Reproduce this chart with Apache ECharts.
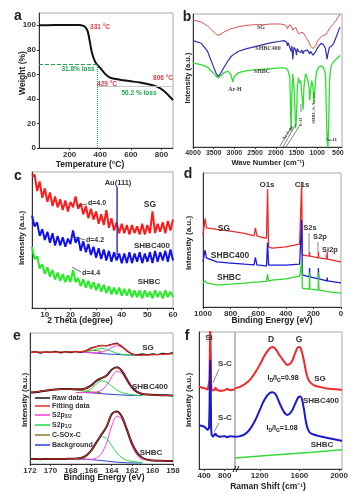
<!DOCTYPE html>
<html><head><meta charset="utf-8">
<script src="https://cdn.jsdelivr.net/npm/echarts@6/dist/echarts.min.js"></script>
<style>html,body{margin:0;padding:0;background:#fff}#c{width:364px;height:501px}</style>
</head><body><div id="c"></div><script>
// ---------- (a) TGA ----------
const tgaTemp   = [0, 100, 200, 260, 290, 305, 318, 330, 345, 365, 378, 398, 430, 463, 528, 600, 660, 720, 770, 810, 845, 875];
const tgaWeight = [100, 100.2, 100.3, 100.2, 99.5, 98, 95, 88, 78, 70.5, 68.2, 65.5, 60.6, 57.4, 55.7, 54.4, 53.3, 51.8, 50, 47, 43, 39];
const tgaLossTemp = 378, tgaLossLevel = 68.2, tgaResidualLevel = 50;
const tgaXTicks = [200, 400, 600, 800];
const tgaYTicks = [0, 20, 40, 60, 80, 100];
// ---------- (b) FTIR ----------
const ftirWn = [4000,3800,3650,3550,3450,3400,3350,3250,3150,3080,3040,3000,2900,2700,2500,2300,2100,1900,1800,1740,1720,1700,1660,1630,1610,1590,1560,1520,1500,1480,1450,1420,1400,1370,1340,1320,1280,1240,1200,1180,1160,1130,1100,1080,1060,1040,1020,1000,960,900,850,800,780,760,740,720,700,680,650,600,550,500,450];
const ftirSG = [95.5,94,91,88,85,84,84.5,86.5,88,89,89,89.5,90.5,91.5,92,92,92.5,92.5,92,91,89,90.5,92,91,90,88,89,90,89,87,85,83.5,86,87,86,85,83,81,79,77.5,76,75,74,74,75,76,77.5,79,81,83,84,84,85,86,87.5,88,89,90,91.5,93,95,97.5,100];
const ftirSHBC400 = [80,78,72,64,56,53,54.5,60,65,68,69,70,72,74,75.5,77,78.5,79.5,80,79,76,78.5,77,72,76,66,75,73,69,74,72,73.5,71,73,70,72,71,73,71.5,70,72,70.5,69,68,70,71.5,72.5,74,76,78,77,74,70,66,70,73,75,75,76,78,82,86,90];
const ftirSHBC = [63,62,60,57,53.5,52,53,56,57,54,49,53,56,57.5,58,58.5,59,59.5,59.5,59,58,57,52,12,40,55,45,14,22,45,52,48,50,40,28,45,55,52,46,35,42,50,45,33,40,50,55,58,60,61,60,55,30,5,0,20,50,58,62,64,66,67,69];
const ftirTicks = [500,1000,1500,2000,2500,3000,3500,4000];
// ---------- (c) XRD ----------
const xrdTheta = [5,6,7,8,9,10,11,12,13,14,15,16,17,18,19,20,21,22,23,24,25,26,27,28,29,30,31,32,33,34,35,36,37,38,39,40,41,42,43,44,45,46,47,48,49,50,51,52,53,54,55,56,57,58,59,60];
const xrdSG = [97,98,86,93,81,88,78,85,75,82,74,80,72,79,71,78,74,82,73,77,69,75,66,73,65,71,62,69,61,72,59,66,57,63,55,62,55,61,54,61,55,60,54,62,54,61,55,71,55,62,56,63,55,64,57,65];
const xrdSHBC400 = [68,60,63,53,58,50,56,48,55,46,53,46,52,45,51,47,57,48,52,42,49,41,47,39,45,37,44,36,43,35,42,34,41,35,40,33,40,33,41,33,40,34,41,33,40,34,41,33,42,34,41,35,42,34,43,35];
const xrdSHBC = [45,36,38,29,32,25,30,23,28,21,26,20,25,19,24,19,28,19,22,16,21,15,20,14,19,13,18,12,17,11,16,10,15,10,15,9,14,9,14,8,13,8,13,7,13,8,12,7,13,8,12,7,13,8,12,8];
const auPeakTheta = 38.2, auLineSpan = [39, 89];
const xrdTicks = [10,20,30,40,50,60];
// ---------- (d) XPS survey ----------
const xpsBE = [1000,985,975,900,800,700,630,620,610,560,540,532,525,500,400,300,290,285,280,230,228,225,165,164,160,102,100,98,0];
const xpsSG = [53.7,66,59,58,56.7,55,53,59,53,51.5,51.5,88,44.8,44,44.8,47,47,93,38.8,38,41,38,36.6,41,36.6,35.8,41,35.8,33.6];
const xpsSHBC400 = [33.6,42.5,36.6,33.6,32.8,32,31.5,37,31.5,30.8,30.6,48,31.3,31.3,31.3,32,32,65,24,22.4,29,22.4,21,29,21,19.5,22,19.5,18];
const xpsSHBC = [18,19.5,18,16.4,17,17.8,18.5,19,18.5,19,19.2,24.6,19.4,20,21,23,23.5,33.6,14,13.4,26,13.4,12.7,26,12.7,11.5,12.5,11.5,10.4];
const xpsTicks = [0,200,400,600,800,1000];
// ---------- (e) S2p high resolution ----------
const s2pBE = [172,171.5,171,170.5,170,169.5,169,168.5,168,167.5,167,166.5,166,165.5,165,164.5,164,163.5,163,162.5,162,161.5,161,160.5,160,159.5,159,158.5,158];
const compBE = [167.5,167,166.5,166,165.5,165,164.5,164,163.5,163,162.5,162,161.5,161];
const oliveBE = [172,171.5,171,170.5,170,169.5,169,168.5,168,167.5,167,166.5,166,165.5,165];
const sgRaw = [85.0,85.8,84.6,85.6,85.2,85.9,84.8,85.7,85.1,86.0,85.3,86.6,88.6,89.6,90.6,90.2,91.4,92.3,89.6,86.2,83.8,83.3,84.1,83.3,84.0,83.5,84.4,84.0,85.0];
const sgFit = [85.4,85.4,85.4,85.4,85.4,85.4,85.5,85.5,85.6,85.7,85.8,86.6,88.2,89.6,90.4,90.4,91.2,91.8,89.8,86.6,84.0,83.2,83.0,83.1,83.3,83.5,83.7,83.9,84.1];
const sgBg = [85.6,85.4,85.2,84.9,84.6,84.3,84.0,83.8,83.6,83.4,83.2,83.0,82.9,82.9];
const sgS2p12 = [85.6,85.5,85.8,86.5,87.6,88.3,87.5,86.0,84.6,83.7,83.3,83.0,82.9,82.9];
const sgS2p32 = [85.6,85.4,85.2,84.9,84.8,85.3,86.6,88.8,90.4,89.3,86.4,84.0,83.1,82.9];
const sgCSOx = [85.4,85.4,85.4,85.4,85.4,85.5,85.5,85.6,85.7,85.8,85.9,86.3,86.8,86.6,85.9];
const s4Raw = [54.6,54.8,55.3,55.9,56.5,56.9,57.2,57.3,57.2,57.0,57.0,57.8,60.0,63.5,65.5,67.5,72.0,73.8,71.0,64.5,58.5,55.0,53.5,53.0,52.8,52.6,52.5,52.4,52.3];
const s4Fit = [54.6,54.9,55.4,56.0,56.5,56.9,57.1,57.2,57.2,57.1,57.1,57.8,59.9,63.3,65.6,67.6,71.8,73.6,71.2,64.6,58.6,55.2,53.6,53.0,52.7,52.5,52.4,52.3,52.3];
const s4Bg = [54.6,54.6,54.5,54.3,54.0,53.7,53.4,53.1,52.9,52.7,52.5,52.4,52.3,52.3];
const s4S2p12 = [54.6,54.7,55.4,57.5,61.0,63.5,62.5,59.5,56.5,54.5,53.5,52.9,52.5,52.3];
const s4S2p32 = [54.6,54.5,54.5,54.6,55.0,56.3,60.0,66.5,70.8,69.2,63.0,57.5,54.3,53.0];
const s4CSOx = [54.6,55.0,55.6,56.2,56.7,57.0,57.2,57.2,57.0,56.6,56.1,55.5,55.0,54.6,54.4];
const shRaw = [3.8,3.9,3.7,3.8,3.8,3.9,3.8,3.9,4.0,4.2,4.6,6.5,10.5,16.5,22.5,28.5,38.0,40.0,36.0,26.0,15.5,8.5,4.8,3.2,2.7,2.5,2.4,2.3,2.3];
const shFit = [3.8,3.8,3.8,3.8,3.8,3.8,3.8,3.9,4.0,4.2,4.6,6.4,10.3,16.3,22.4,28.6,37.8,39.8,36.1,26.2,15.7,8.6,4.9,3.2,2.7,2.5,2.4,2.3,2.3];
const shBg = [3.9,3.8,3.6,3.3,3.0,2.6,2.2,1.8,1.4,1.1,0.9,0.8,0.8,0.8];
const shS2p12 = [3.9,3.9,5.5,9.5,15.5,20.8,19.5,14.0,8.5,4.8,2.8,2.0,1.5,1.2];
const shS2p32 = [3.9,3.8,3.7,3.6,4.5,8.0,16.0,29.0,36.5,34.0,24.5,13.5,6.5,2.8];
const s2pTicks = [158,160,162,164,166,168,170,172];
// ---------- (f) Raman ----------
const ramanLeftShift = [300,400,470,495,505,512,518,522,528,535,545,570,600,620,640,700,800,850,900,1000];
const ramanLeftSG = [60,59,58,58.5,65,90,105,105,85,62,57.5,57,57.5,59.5,58,57,57.5,58.5,57.5,58];
const ramanLeftSHBC400 = [32,31,28.5,30,45,70,80,80,60,30,25,23.5,24,26,24.5,23.5,24,23,24,23.5];
const ramanRightShift = [950,1000,1050,1100,1150,1200,1250,1300,1330,1360,1400,1450,1480,1520,1560,1590,1610,1640,1670,1700,1750,1800,1900,2000,2030];
const ramanRightSG = [59,60,62,65,70,76,83,88,89,87.5,83,78,76,78,85,89,88.5,81,70,64,61,60,58.5,58,57.7];
const ramanRightSHBC400 = [23.5,24,25.5,29,35,43,51,55.5,56,54.5,48,41,39.5,42,48,52.5,53,46,33,27,25,24,22.5,21,20.5];
const ramanGreenShift = [950,1300,1700,2030];
const ramanGreenSHBC = [8,10,12,14];
const ramanLeftTicks = [400,800];
const ramanRightTicks = [1200,1600,2000];

// ---------- build ----------
const FONT = '"Liberation Sans", Arial, sans-serif';
const SERIF = '"Liberation Serif", "DejaVu Serif", serif';
const RED = '#ee2a2a';
const pairs = (xs, ys) => xs.map((x, i) => [x, ys[i]]);
const plain = v => String(v);

function axisCfg(gi, min, max, ticks, fs, extra) {
  return Object.assign({
    type: 'value', gridIndex: gi, min, max, splitLine: {show: false},
    axisLine: {onZero: false, lineStyle: {color: '#333', width: 1}},
    axisTick: ticks ? {customValues: ticks, length: 2, lineStyle: {color: '#333'}} : {show: false},
    axisLabel: ticks ? {customValues: ticks, formatter: plain, fontSize: fs || 8, fontWeight: 'bold', color: '#333', margin: 3, fontFamily: FONT} : {show: false}
  }, extra || {});
}
function L(gi, data, color, w, extra) {
  return Object.assign({type: 'line', xAxisIndex: gi, yAxisIndex: gi, data, symbol: 'none', showSymbol: false,
    lineStyle: {color, width: w}, itemStyle: {color}, animation: false, silent: true, clip: true}, extra || {});
}
function T(x, y, text, o) {
  o = o || {};
  const st = {text, fill: o.color || '#222', font: (o.weight || 'bold') + ' ' + (o.size || 8) + 'px ' + (o.family || FONT),
    align: o.align || 'center', verticalAlign: 'middle'};
  if (o.rich) st.rich = o.rich;
  return {type: 'text', x, y, rotation: o.rot || 0, z: 100, style: st};
}
function Ln(x1, y1, x2, y2, color, w) {
  return {type: 'line', z: 100, shape: {x1, y1, x2, y2}, style: {stroke: color || '#333', lineWidth: w || 0.8}};
}
const gridBase = {show: true, borderColor: '#a8a8a8', borderWidth: 1, backgroundColor: 'transparent', containLabel: false};
const grids = [
  {left: 39, top: 13, width: 134, height: 135},
  {left: 193, top: 14, width: 149, height: 133},
  {left: 32, top: 172, width: 141, height: 136},
  {left: 203, top: 173, width: 138, height: 134},
  {left: 30, top: 333, width: 143, height: 131},
  {left: 199, top: 332, width: 36, height: 137},
  {left: 235, top: 332, width: 107, height: 137}
].map(g => Object.assign({}, gridBase, g));

const xAxes = [
  axisCfg(0, 0, 875, tgaXTicks),
  axisCfg(1, 400, 4000, ftirTicks, 7, {inverse: true}),
  axisCfg(2, 5, 60, xrdTicks),
  axisCfg(3, 0, 1000, xpsTicks, 8, {inverse: true}),
  axisCfg(4, 158, 172, s2pTicks, 8, {inverse: true}),
  axisCfg(5, 300, 1000, ramanLeftTicks),
  axisCfg(6, 950, 2030, ramanRightTicks)
];
const yAxes = [
  axisCfg(0, 0, 110, tgaYTicks),
  axisCfg(1, 0, 100, null), axisCfg(2, 0, 100, null), axisCfg(3, 0, 100, null), axisCfg(4, 0, 100, null),
  axisCfg(5, 0, 100, null), axisCfg(6, 0, 100, null, 8, {axisLine: {show: false}})
];

const PINK = '#ff3fd6', OLIVE = '#8c7a22', BGBLUE = '#2a40d8', DARK = '#151515', EGREEN = '#22d84a';
const series = [
  L(0, pairs(tgaTemp, tgaWeight), '#111', 2, {smooth: 0.3, markLine: {symbol: 'none', silent: true, animation: false, label: {show: false},
    data: [
      [{coord: [0, tgaLossLevel], lineStyle: {color: '#2a9d4a', type: 'dashed', width: 1}}, {coord: [tgaLossTemp, tgaLossLevel]}],
      [{coord: [tgaLossTemp, 0], lineStyle: {color: '#2a9d4a', type: 'dotted', width: 1}}, {coord: [tgaLossTemp, tgaLossLevel]}],
      [{coord: [tgaLossTemp, tgaResidualLevel], lineStyle: {color: '#c8c8c8', type: 'solid', width: 1}}, {coord: [875, tgaResidualLevel]}]
    ]}}),
  L(1, pairs(ftirWn, ftirSG), '#d9534f', 1),
  L(1, pairs(ftirWn, ftirSHBC400), '#3030b0', 1.2),
  L(1, pairs(ftirWn, ftirSHBC), '#2fe02f', 1.3),
  L(2, pairs(xrdTheta, xrdSG), '#ff1a1a', 2),
  L(2, pairs(xrdTheta, xrdSHBC400), '#1010ee', 2),
  L(2, pairs(xrdTheta, xrdSHBC), '#22ee22', 2),
  L(2, [[auPeakTheta, auLineSpan[0]], [auPeakTheta, auLineSpan[1]]], '#3a3aa8', 1.5),
  L(3, pairs(xpsBE, xpsSG), RED, 1.3),
  L(3, pairs(xpsBE, xpsSHBC400), '#1a1ad0', 1.3),
  L(3, pairs(xpsBE, xpsSHBC), '#2fd82f', 1.3),
  // e
  L(4, pairs(compBE, sgBg), BGBLUE, 1),
  L(4, pairs(compBE, sgS2p12), EGREEN, 1),
  L(4, pairs(compBE, sgS2p32), PINK, 1),
  L(4, pairs(oliveBE, sgCSOx), OLIVE, 1),
  L(4, pairs(s2pBE, sgRaw), DARK, 1.3),
  L(4, pairs(s2pBE, sgFit), RED, 1.2, {smooth: 0.3}),
  L(4, pairs(compBE, s4Bg), BGBLUE, 1),
  L(4, pairs(oliveBE, s4CSOx), OLIVE, 1),
  L(4, pairs(compBE, s4S2p12), EGREEN, 1, {smooth: 0.3}),
  L(4, pairs(compBE, s4S2p32), PINK, 1, {smooth: 0.3}),
  L(4, pairs(s2pBE, s4Raw), DARK, 2, {smooth: 0.3}),
  L(4, pairs(s2pBE, s4Fit), RED, 1, {smooth: 0.3}),
  L(4, pairs(compBE, shBg), BGBLUE, 1),
  L(4, pairs(compBE, shS2p12), EGREEN, 1, {smooth: 0.3}),
  L(4, pairs(compBE, shS2p32), PINK, 1, {smooth: 0.3}),
  L(4, pairs(s2pBE, shRaw), DARK, 2, {smooth: 0.3}),
  L(4, pairs(s2pBE, shFit), RED, 1, {smooth: 0.3}),
  // f
  L(5, pairs(ramanLeftShift, ramanLeftSG), RED, 2),
  L(5, pairs(ramanLeftShift, ramanLeftSHBC400), '#1a1ac8', 2),
  L(6, pairs(ramanRightShift, ramanRightSG), RED, 2, {smooth: 0.4}),
  L(6, pairs(ramanRightShift, ramanRightSHBC400), '#1a1ac8', 2, {smooth: 0.4}),
  L(6, pairs(ramanGreenShift, ramanGreenSHBC), '#3ad83a', 1.5)
];

const sub = {s: {font: 'bold 5px ' + FONT, fill: '#222', padding: [5, 0, 0, 0]}};
const subE = {s: {font: 'bold 5px ' + FONT, fill: '#333', padding: [4, 0, 0, 0]}};
const graphics = [
  // panel letters
  T(18, 16, 'a', {size: 14}), T(187, 17, 'b', {size: 14}), T(18, 176, 'c', {size: 14}),
  T(188, 174, 'd', {size: 14}), T(17, 336, 'e', {size: 14}), T(187, 336, 'f', {size: 14}),
  // axis names
  T(23, 73, 'Weight (%)', {rot: Math.PI / 2, size: 8.5}),
  T(90, 165, 'Temperature (°C)', {size: 8.5}),
  T(188, 78, 'Intensity (a.u.)', {rot: Math.PI / 2, size: 7.5}),
  T(268, 163, 'Wave Number (cm⁻¹)', {size: 7.5}),
  T(22, 238, 'Intensity (a.u.)', {rot: Math.PI / 2, size: 8}),
  T(80, 321, '2 Theta (degree)', {size: 8.5}),
  T(189, 243, 'Intensity (a.u.)', {rot: Math.PI / 2, size: 8}),
  T(272, 321, 'Binding Energy (eV)', {size: 8.5}),
  T(25, 400, 'Intensity (a.u.)', {rot: Math.PI / 2, size: 8}),
  T(104, 478, 'Binding Energy (eV)', {size: 8.5}),
  T(189, 400, 'Intensity (a.u.)', {rot: Math.PI / 2, size: 8}),
  T(268, 487, 'Raman Shift (cm⁻¹)', {size: 8.5}),
  // a annotations
  T(100, 27, '331 °C', {color: '#e0404a', size: 6.5}),
  T(78, 69, '31.8% loss', {color: '#1fa550', size: 6.5}),
  T(107, 84, '429 °C', {color: '#e0404a', size: 6.5}),
  T(163, 78, '806 °C', {color: '#e0404a', size: 6.5}),
  T(139, 93, '50.2 % loss', {color: '#1fa550', size: 6.5}),
  // b annotations
  T(261, 27, 'SG', {family: SERIF, size: 6, color: '#444'}),
  T(268, 48, 'SHBC400', {family: SERIF, size: 6, color: '#444'}),
  T(262, 71, 'SHBC', {family: SERIF, size: 6, color: '#444'}),
  T(235, 89, 'Ar-H', {family: SERIF, size: 6, color: '#444'}),
  T(331, 140, 'Ar-H', {family: SERIF, size: 5, color: '#444'}),
  T(288, 133, 'Ar-S-Ar', {family: SERIF, size: 4.5, color: '#444', rot: 0.95}),
  T(301, 122, 'S=O', {family: SERIF, size: 4.5, color: '#444', rot: Math.PI / 2}),
  T(314, 112, 'SHBC-S-Ar', {family: SERIF, size: 4.5, color: '#444', rot: Math.PI / 2}),
  Ln(280, 146, 292, 126, '#333', 0.6), Ln(283, 147, 296, 124, '#333', 0.6), Ln(286, 147, 300, 125, '#333', 0.6),
  Ln(301, 112, 301, 104, '#333', 0.6), Ln(314, 98, 314, 92, '#333', 0.6),
  // c annotations
  T(118, 183, 'Au(111)', {color: '#333', size: 7.5}),
  T(150, 205, 'SG', {color: '#333', size: 8.5}),
  T(152, 246, 'SHBC400', {color: '#333', size: 8}),
  T(149, 282, 'SHBC', {color: '#333', size: 8}),
  Ln(77, 206, 87, 204, '#333', 0.7), T(88, 203, 'd=4.0', {align: 'left', size: 7, color: '#333'}),
  Ln(75, 237, 85, 240, '#333', 0.7), T(86, 240, 'd=4.2', {align: 'left', size: 7, color: '#333'}),
  Ln(72, 267, 81, 272, '#333', 0.7), T(82, 273, 'd=4.4', {align: 'left', size: 7, color: '#333'}),
  // d annotations
  T(224, 229, 'SG', {size: 8.5, color: '#333'}),
  T(230, 256, 'SHBC400', {size: 8.5, color: '#333'}),
  T(229, 278, 'SHBC', {size: 8.5, color: '#333'}),
  T(267, 185, 'O1s', {size: 8, color: '#333'}),
  T(302, 185, 'C1s', {size: 8, color: '#333'}),
  T(310, 228, 'S2s', {size: 7.5, color: '#333'}),
  T(320, 237, 'S2p', {size: 7.5, color: '#333'}),
  T(330, 250, 'Si2p', {size: 7.5, color: '#333'}),
  Ln(309, 233, 309, 253, '#555', 0.7), Ln(318, 242, 318, 252, '#555', 0.7), Ln(325, 255, 327, 259, '#555', 0.7),
  // e legend + labels
  Ln(35, 398, 50, 398, DARK, 1.5), T(52, 398, 'Raw data', {align: 'left', size: 7, color: '#333'}),
  Ln(35, 406, 50, 406, RED, 1.5), T(52, 406, 'Fitting data', {align: 'left', size: 7, color: '#333'}),
  Ln(35, 415, 50, 415, PINK, 1.5), T(52, 415, 'S2p{s|3/2}', {align: 'left', size: 7, color: '#333', rich: subE}),
  Ln(35, 425, 50, 425, EGREEN, 1.5), T(52, 425, 'S2p{s|1/2}', {align: 'left', size: 7, color: '#333', rich: subE}),
  Ln(35, 435, 50, 435, OLIVE, 1.5), T(52, 435, 'C-SOx-C', {align: 'left', size: 7, color: '#333'}),
  Ln(35, 445, 50, 445, BGBLUE, 1.5), T(52, 445, 'Background', {align: 'left', size: 7, color: '#333'}),
  T(148, 348, 'SG', {size: 8, color: '#333'}),
  T(150, 387, 'SHBC400', {size: 8, color: '#333'}),
  T(151, 453, 'SHBC', {size: 8, color: '#333'}),
  // f annotations
  T(209, 338, 'Si', {size: 8, color: '#333'}),
  T(225, 364, 'S-C', {size: 8, color: '#333'}),
  Ln(219, 369, 213, 383, '#555', 0.7),
  T(225, 418, 'S-C', {size: 8, color: '#333'}),
  Ln(219, 423, 214, 432, '#555', 0.7),
  T(271, 340, 'D', {size: 8.5, color: '#333'}),
  T(299, 340, 'G', {size: 8.5, color: '#333'}),
  T(283, 378, 'I{s|D}/I{s|G}=0.98', {size: 7, color: '#222', rich: sub}),
  T(320, 379, 'SG', {size: 8, color: '#333'}),
  T(321, 401, 'SHBC400', {size: 8, color: '#333'}),
  T(282, 428, 'I{s|D}/I{s|G}=1.08', {size: 7, color: '#222', rich: sub}),
  T(322, 445, 'SHBC', {size: 8, color: '#333'}),
  Ln(233, 472, 236, 466, '#111', 1), Ln(236, 472, 239, 466, '#111', 1)
];

const chart = echarts.init(document.getElementById('c'), null, {renderer: 'canvas'});
chart.setOption({animation: false, backgroundColor: '#fff', grid: grids, xAxis: xAxes, yAxis: yAxes, series, graphic: graphics});
</script></body></html>
